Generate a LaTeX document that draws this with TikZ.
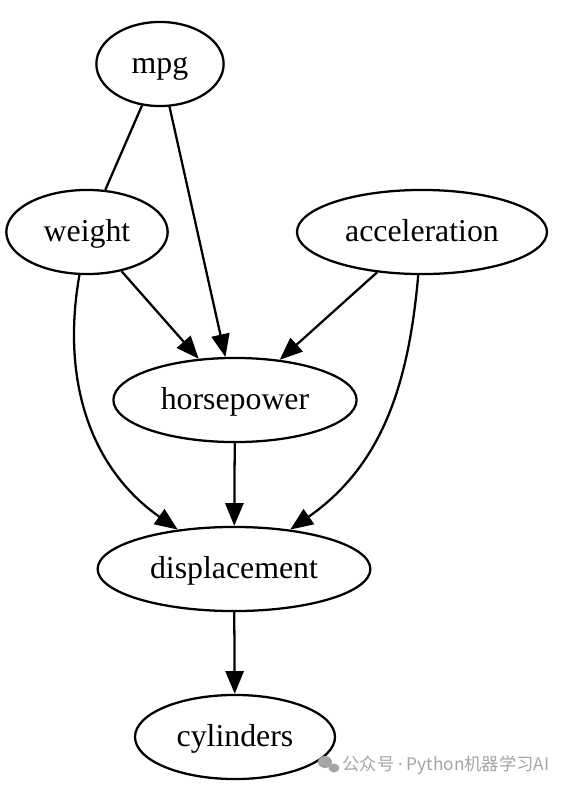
\documentclass[tikz,border=0pt]{standalone}
\usepackage{fontspec}
\setmainfont{Liberation Serif}
\newfontfamily\cjkfont{Noto Sans CJK SC}
\newfontfamily\dotfont{Noto Sans}
\usetikzlibrary{shapes.geometric,arrows.meta}
\definecolor{markgray}{RGB}{165,165,165}

\begin{document}
\begin{tikzpicture}[x=0.44pt,y=-0.44pt,
  var/.style={draw,ellipse,line width=1pt,inner sep=0pt,minimum height=37pt,
    text height=9pt,text depth=1pt,font=\fontsize{14pt}{16pt}\selectfont},
  dep/.style={-{Triangle[length=10pt,width=8pt]},line width=1pt}]

\useasboundingbox[fill=white] (0,0) rectangle (567,788);

\node[var,minimum width=56pt] (mpg) at (160,64) {mpg};
\node[var,minimum width=71pt] (weight) at (87,232) {weight};
\node[var,minimum width=110pt] (acceleration) at (422,232) {acceleration};
\node[var,minimum width=107pt] (horsepower) at (235,400) {horsepower};
\node[var,minimum width=120pt] (displacement) at (234,569) {displacement};
\node[var,minimum width=88pt] (cylinders) at (235,737) {cylinders};

\draw[line width=1pt] (mpg) -- (weight);
\path[dep] (mpg) edge (horsepower);
\path[dep] (weight) edge (horsepower);
\path[dep] (acceleration) edge (horsepower);

\path[dep] (weight) edge[out=-100,in=145] (displacement);
\path[dep] (horsepower) edge (displacement);
\path[dep] (acceleration) edge[out=-95,in=35] (displacement);

\path[dep] (displacement) edge (cylinders);

\fill[markgray] (325,762) ellipse (7 and 6);
\fill[markgray] (334,768) ellipse (5.5 and 4.5);
\node[text=markgray,anchor=west,inner sep=0pt,
  font=\cjkfont\fontsize{7.6pt}{9pt}\selectfont] (mark) at (342,765)
  {公众号 {\dotfont·} Python机器学习AI};

\end{tikzpicture}
\end{document}
